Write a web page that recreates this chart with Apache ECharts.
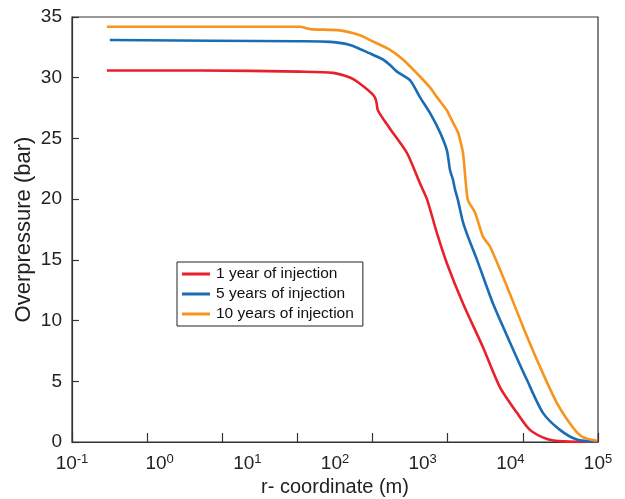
<!DOCTYPE html>
<html>
<head>
<meta charset="utf-8">
<script src="https://cdn.jsdelivr.net/npm/echarts@6/dist/echarts.min.js"></script>
<style>
  html, body { margin: 0; padding: 0; background: #fff; }
  #chart { width: 625px; height: 499px; }
</style>
</head>
<body>
<div id="chart"></div>
<script>
// Overpressure profiles along the radial coordinate, [r (m), overpressure (bar)]
const oneYear = [
  [0.25, 30.6], [3, 30.6], [40, 30.5], [95, 30.4], [150, 30.0], [193, 29.5],
  [271, 28.6], [295, 28.1], [309, 27.3], [424, 25.8], [662, 23.8], [931, 21.3],
  [1119, 20.0], [1455, 17.2], [1893, 14.7], [2884, 11.4], [4876, 7.8],
  [7620, 4.5], [11910, 2.4], [16750, 1.0], [26170, 0.25], [39810, 0.05],
  [100000, 0.0]
];
const fiveYears = [
  [0.27, 33.1], [40, 33.0], [88, 32.95], [148, 32.7], [251, 32.0], [352, 31.5],
  [424, 31.05], [509, 30.5], [716, 29.8], [931, 28.4], [1211, 27.1],
  [1577, 25.5], [1893, 24.0], [2049, 22.4], [2218, 21.6], [2338, 20.8],
  [2529, 19.9], [2884, 18.1], [3289, 16.9], [4168, 15.0], [6341, 11.4],
  [9906, 8.2], [15490, 5.1], [23550, 2.4], [36800, 1.0], [57500, 0.2],
  [97300, 0.0]
];
const tenYears = [
  [0.25, 34.2], [40, 34.2], [52, 34.0], [114, 33.9], [193, 33.5], [251, 33.1],
  [424, 32.3], [596, 31.5], [931, 30.1], [1211, 29.2], [1455, 28.4],
  [1893, 27.3], [2049, 26.8], [2529, 25.5], [2667, 24.9], [2884, 23.8],
  [3120, 21.2], [3289, 19.9], [3953, 18.9], [4876, 16.9], [5862, 16.1],
  [9160, 12.8], [13940, 9.5], [21780, 6.2], [34030, 3.2], [51760, 1.2],
  [67300, 0.4], [97300, 0.1]
];
const seriesNames = ['1 year of injection', '5 years of injection', '10 years of injection'];
const seriesColors = ['#e8202a', '#1a6db5', '#f7941d'];
const xExponents = [-1, 0, 1, 2, 3, 4, 5];

const font = '"Liberation Sans", Arial, Helvetica, sans-serif';
const chart = echarts.init(document.getElementById('chart'));

function decadeLabel(v) {
  const e = Math.round(Math.log10(v));
  return xExponents.indexOf(e) >= 0 ? '10{sup|' + e + '}' : '';
}

const lines = [oneYear, fiveYears, tenYears].map((d, i) => ({
  name: seriesNames[i],
  type: 'line',
  xAxisIndex: 0,
  data: d,
  symbol: 'none',
  smooth: 0.25,
  lineStyle: { width: 2.6, color: seriesColors[i] },
  itemStyle: { color: seriesColors[i] },
  z: 3 + i
}));

chart.setOption({
  animation: false,
  backgroundColor: '#fff',
  textStyle: { fontFamily: font },
  grid: {
    left: 72, right: 27, top: 17, bottom: 57,
    outerBoundsMode: 'none',
    containLabel: false,
    show: true, borderColor: '#333', borderWidth: 1.2, backgroundColor: 'transparent'
  },
  legend: {
    orient: 'vertical',
    left: 177, top: 262,
    padding: [4, 9, 4, 5],
    itemGap: 4,
    itemWidth: 28, itemHeight: 3,
    icon: 'rect',
    borderColor: '#222', borderWidth: 1,
    backgroundColor: '#fff',
    textStyle: { fontFamily: font, fontSize: 15.5, color: '#111', padding: [0, 0, 0, 1] },
    data: seriesNames
  },
  xAxis: [
    {
      type: 'log',
      min: 0.1, max: 100000,
      logBase: 10,
      name: 'r- coordinate (m)',
      nameLocation: 'middle',
      nameGap: 35,
      nameMoveOverlap: false,
      nameTextStyle: { fontFamily: font, fontSize: 20, color: '#222' },
      axisLine: { show: true, lineStyle: { color: '#333', width: 1.2 } },
      axisTick: { show: false },
      splitLine: { show: false },
      minorTick: { show: false },
      axisLabel: {
        margin: 11,
        fontFamily: font, fontSize: 19, color: '#222',
        formatter: decadeLabel,
        showMinLabel: true, showMaxLabel: true,
        rich: { sup: { fontSize: 13, fontFamily: font, color: '#222', padding: [0, 0, 9, 0] } }
      }
    },
    {
      type: 'value',
      min: 0, max: 7, interval: 1,
      position: 'bottom',
      axisLine: { show: false },
      axisLabel: { show: false },
      splitLine: { show: false },
      axisTick: { show: true, inside: true, length: 9, lineStyle: { color: '#333', width: 1.2 } }
    }
  ],
  yAxis: {
    type: 'value',
    min: 0, max: 35, interval: 5,
    name: 'Overpressure (bar)',
    nameLocation: 'middle',
    nameGap: 37,
    nameMoveOverlap: false,
    nameTextStyle: { fontFamily: font, fontSize: 22, color: '#222' },
    axisLine: { show: true, lineStyle: { color: '#333', width: 1.2 } },
    axisTick: { show: true, inside: true, length: 7, lineStyle: { color: '#333', width: 1.2 } },
    splitLine: { show: false },
    axisLabel: { margin: 10, fontFamily: font, fontSize: 19, color: '#222' }
  },
  series: lines
});
</script>
</body>
</html>
